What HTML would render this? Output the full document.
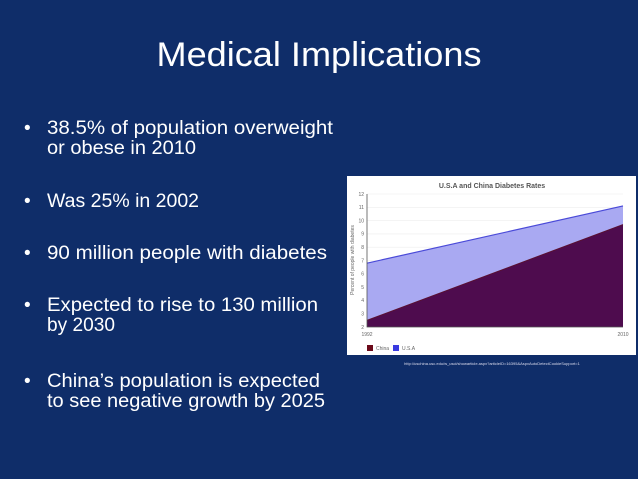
<!DOCTYPE html>
<html><head><meta charset="utf-8"><style>
html,body{margin:0;padding:0;background:#0f2d69;}
svg{display:block;font-family:"Liberation Sans",sans-serif;}
</style></head><body>
<svg width="638" height="479" viewBox="0 0 638 479">
<rect width="638" height="479" fill="#0f2d69"/>
<text x="319" y="66" text-anchor="middle" font-size="34" fill="#fff" textLength="325" lengthAdjust="spacingAndGlyphs">Medical Implications</text>
<g fill="#fff" font-size="19">
<g><text x="24" y="134">•</text><text x="47" y="134" textLength="286" lengthAdjust="spacingAndGlyphs">38.5% of population overweight</text><text x="47" y="154" textLength="149" lengthAdjust="spacingAndGlyphs">or obese in 2010</text></g>
<g><text x="24" y="207">•</text><text x="47" y="207" textLength="152" lengthAdjust="spacingAndGlyphs">Was 25% in 2002</text></g>
<g><text x="24" y="259">•</text><text x="47" y="259" textLength="280" lengthAdjust="spacingAndGlyphs">90 million people with diabetes</text></g>
<g><text x="24" y="311">•</text><text x="47" y="311" textLength="271" lengthAdjust="spacingAndGlyphs">Expected to rise to 130 million</text><text x="47" y="331" textLength="68" lengthAdjust="spacingAndGlyphs">by 2030</text></g>
<g><text x="24" y="387">•</text><text x="47" y="387" textLength="273" lengthAdjust="spacingAndGlyphs">China’s population is expected</text><text x="47" y="407" textLength="278" lengthAdjust="spacingAndGlyphs">to see negative growth by 2025</text></g>
</g>
<g id="chart">
<rect x="347" y="176" width="289" height="179" fill="#fff"/>
<text x="492" y="188" text-anchor="middle" font-size="7" font-weight="bold" fill="#555">U.S.A and China Diabetes Rates</text>
<text transform="translate(354,260) rotate(-90)" text-anchor="middle" font-size="5" fill="#666">Percent of people with diabetes</text>
<g id="grid"></g><g id="areas"></g><g id="ticks" font-size="5" fill="#666"></g>
<g>
<rect x="367" y="345" width="6" height="6" fill="#6b0a1a"/>
<text x="376" y="350" font-size="5" fill="#666">China</text>
<rect x="393" y="345" width="6" height="6" fill="#3a3ae0"/>
<text x="402" y="350" font-size="5" fill="#666">U.S.A</text>
</g>
</g>
<text x="492" y="365" text-anchor="middle" font-size="4" fill="#dde">http://uschina.usc.edu/w_usci/showarticle.aspx?articleID=16395&amp;AspxAutoDetectCookieSupport=1</text>
</svg>
<script>
const years = [1992, 2010];
const china = [2.5, 9.7];
const usa = [6.8, 11.1];
const yTicks = [2,3,4,5,6,7,8,9,10,11,12];
const NS = "http://www.w3.org/2000/svg";
const x0=367,x1=623,yb=327,yt=194,ymin=2,ymax=12;
const xs = v => x0 + (v-years[0])/(years[years.length-1]-years[0])*(x1-x0);
const ys = v => yb - (v-ymin)/(ymax-ymin)*(yb-yt);
function mk(tag, attrs, parent){const e=document.createElementNS(NS,tag);for(const k in attrs)e.setAttribute(k,attrs[k]);parent.appendChild(e);return e;}
const grid=document.getElementById('grid'),areas=document.getElementById('areas'),ticks=document.getElementById('ticks');
yTicks.forEach(t=>{
  const l=mk('line',{x1:x0,x2:x1,y1:ys(t),y2:ys(t),stroke:'#eee','stroke-width':0.6},grid);
  
  
  const tx=mk('text',{x:x0-3,y:ys(t)+1.8,'text-anchor':'end'},ticks);
  tx.textContent=t;
  
  
});
years.forEach(y=>{
  const tx=mk('text',{x:xs(y),y:yb+9,'text-anchor':'middle'},ticks);
  tx.textContent=y;
  
  
});
function pts(arr){return years.map((y,i)=>xs(y)+','+ys(arr[i])).join(' ');}
const ua=mk('polygon',{points:pts(usa)+' '+xs(years[1])+','+yb+' '+xs(years[0])+','+yb,fill:'#a9a9f2'},areas);


const ca=mk('polygon',{points:pts(china)+' '+xs(years[1])+','+yb+' '+xs(years[0])+','+yb,fill:'#4e0c4e'},areas);


const ul=mk('polyline',{points:pts(usa),fill:'none',stroke:'#4a4ad8','stroke-width':1.2},areas);


const cl=mk('polyline',{points:pts(china),fill:'none',stroke:'#5a1030','stroke-width':1},areas);


const ax=mk('polyline',{points:x0+','+yt+' '+x0+','+yb+' '+x1+','+yb,fill:'none',stroke:'#555','stroke-width':0.8},areas);


</script>
</body></html>
